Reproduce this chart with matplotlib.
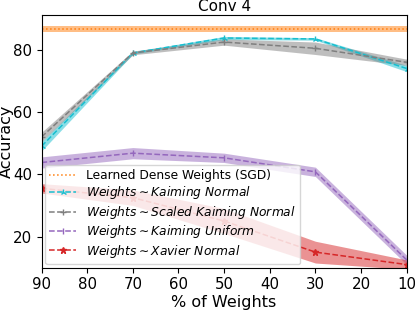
import numpy as np
import matplotlib
matplotlib.use('Agg')
import matplotlib.pyplot as plt

pct_weights = [90, 70, 50, 30, 10]

dense_sgd = 86.7
dense_sgd_err = 1.0

kaiming_normal = [49.0, 79.0, 83.8, 83.5, 74.0]
kaiming_normal_err = [1.5, 0.4, 0.5, 0.4, 1.0]

scaled_kaiming = [52.0, 79.0, 82.5, 80.5, 76.0]
scaled_kaiming_err = [1.5, 0.6, 1.0, 2.0, 1.0]

kaiming_uniform = [43.8, 46.8, 45.3, 40.8, 12.5]
kaiming_uniform_err = [1.8, 1.8, 1.5, 1.5, 1.5]

xavier_normal = [35.5, 32.5, 25.0, 15.0, 11.0]
xavier_normal_err = [1.5, 2.5, 4.0, 3.5, 1.5]


def plot_band(ax, x, y, err, color, marker, label):
    y = np.array(y)
    err = np.array(err)
    ax.fill_between(x, y - err, y + err, color=color, alpha=0.5, linewidth=0)
    ax.plot(x, y, '--', color=color, marker=marker, markersize=4.5, linewidth=1.1, label=label)


def main():
    plt.rcParams['font.family'] = 'DejaVu Sans'
    fig, ax = plt.subplots(figsize=(4.15, 3.12), dpi=100)

    x = np.array(pct_weights)
    ax.fill_between([0, 100], dense_sgd - dense_sgd_err, dense_sgd + dense_sgd_err,
                    color='tab:orange', alpha=0.5, linewidth=0)
    ax.plot([0, 100], [dense_sgd, dense_sgd], ':', color='tab:orange', linewidth=1.1,
            label='Learned Dense Weights (SGD)')

    plot_band(ax, x, kaiming_normal, kaiming_normal_err, 'tab:cyan', '2',
              r'$Weights \sim Kaiming\ Normal$')
    plot_band(ax, x, scaled_kaiming, scaled_kaiming_err, 'tab:gray', '+',
              r'$Weights \sim Scaled\ Kaiming\ Normal$')
    plot_band(ax, x, kaiming_uniform, kaiming_uniform_err, 'tab:purple', '|',
              r'$Weights \sim Kaiming\ Uniform$')
    plot_band(ax, x, xavier_normal, xavier_normal_err, 'tab:red', '*',
              r'$Weights \sim Xavier\ Normal$')

    ax.set_xlim(90, 10)
    ax.set_ylim(10, 91.2)
    ax.set_xticks([90, 80, 70, 60, 50, 40, 30, 20, 10])
    ax.set_yticks([20, 40, 60, 80])
    ax.tick_params(labelsize=10.8, length=3.5, pad=3)
    ax.set_xlabel('% of Weights', fontsize=11.5, labelpad=2)
    ax.set_ylabel('Accuracy', fontsize=11.5)
    ax.yaxis.set_label_coords(-0.075, 0.5)
    ax.set_title('Conv 4', fontsize=11, pad=3)
    ax.legend(loc='lower left', fontsize=8.8, borderaxespad=0.3, handlelength=2.2,
              labelspacing=0.2, borderpad=0.35)

    fig.subplots_adjust(left=0.1, right=0.98, top=0.952, bottom=0.142)
    fig.savefig('out.png', dpi=100)


if __name__ == "__main__":
    main()
